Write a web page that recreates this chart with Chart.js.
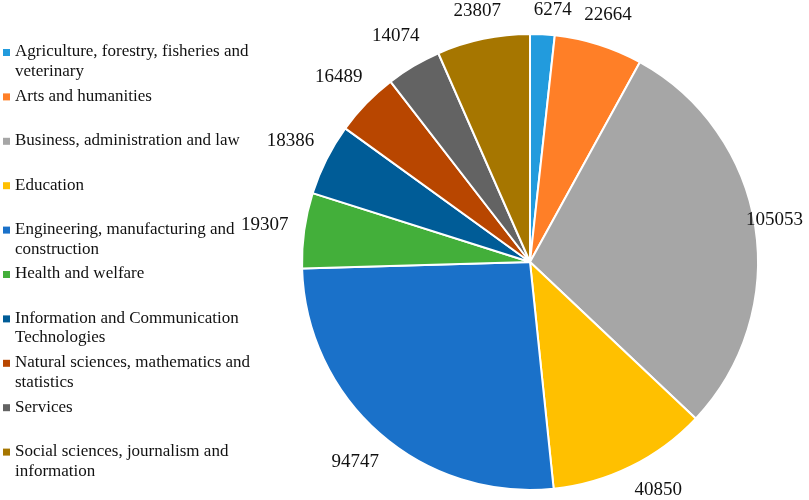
<!DOCTYPE html>
<html lang="en">
<head>
    <meta charset="UTF-8">
    <title>Students by field of education</title>
    <script src="https://cdn.jsdelivr.net/npm/chart.js"></script>
    <style>
        html, body { margin: 0; padding: 0; background: #fff; }
        #wrap { width: 809px; height: 500px; }
    </style>
</head>
<body>
    <div id="wrap">
        <canvas id="pieChart" width="809" height="500"></canvas>
    </div>

    <script>
        // Data
        const categories = [
            'Agriculture, forestry, fisheries and veterinary',
            'Arts and humanities',
            'Business, administration and law',
            'Education',
            'Engineering, manufacturing and construction',
            'Health and welfare',
            'Information and Communication Technologies',
            'Natural sciences, mathematics and statistics',
            'Services',
            'Social sciences, journalism and information'
        ];
        const students = [6274, 22664, 105053, 40850, 94747, 19307, 18386, 16489, 14074, 23807];
        const sliceColors = [
            '#229BDD', '#FF7F27', '#A6A6A6', '#FFC000', '#1A71C9',
            '#43AF3A', '#005C97', '#B84600', '#636363', '#A67600'
        ];

        const serifFont = '"Liberation Serif", serif';

        // value labels just outside each slice, kept inside the canvas
        const valueLabels = {
            id: 'valueLabels',
            afterDatasetsDraw(chart) {
                const ctx = chart.ctx;
                const meta = chart.getDatasetMeta(0);
                ctx.save();
                ctx.font = '19px ' + serifFont;
                ctx.fillStyle = '#111';
                ctx.textAlign = 'center';
                ctx.textBaseline = 'middle';
                meta.data.forEach((arc, i) => {
                    const p = arc.getProps(['x', 'y', 'startAngle', 'endAngle', 'outerRadius'], true);
                    const mid = (p.startAngle + p.endAngle) / 2;
                    const c = Math.cos(mid), s = Math.sin(mid);
                    const text = String(chart.data.datasets[0].data[i]);
                    const w = ctx.measureText(text).width;
                    const d = p.outerRadius + 15 + Math.abs(c) * w / 2 + Math.abs(s) * 9;
                    let px = p.x + c * d;
                    let py = p.y + s * d;
                    const maxY = chart.height - 10, minY = 10;
                    if (py > maxY || py < minY) {
                        py = Math.min(Math.max(py, minY), maxY);
                        const dy = py - p.y;
                        px = p.x + Math.sign(c) * Math.sqrt(Math.max(d * d - dy * dy, 0));
                    }
                    px = Math.min(Math.max(px, w / 2 + 4), chart.width - w / 2 - 6);
                    ctx.fillText(text, px, py);
                });
                ctx.restore();
            }
        };

        // legend on the left, one slot per category, wrapped text
        const sideLegend = {
            id: 'sideLegend',
            afterDraw(chart) {
                const ctx = chart.ctx;
                const colors = chart.data.datasets[0].backgroundColor;
                ctx.save();
                ctx.font = '17px ' + serifFont;
                ctx.textAlign = 'left';
                ctx.textBaseline = 'middle';
                chart.data.labels.forEach((label, i) => {
                    const y0 = 52 + i * 44.4;
                    ctx.fillStyle = colors[i];
                    ctx.fillRect(3, y0 - 3, 7, 7);
                    ctx.fillStyle = '#111';
                    const lines = [];
                    let line = '';
                    label.split(' ').forEach(word => {
                        const test = line ? line + ' ' + word : word;
                        if (ctx.measureText(test).width > 255 && line) {
                            lines.push(line);
                            line = word;
                        } else {
                            line = test;
                        }
                    });
                    lines.push(line);
                    lines.forEach((l, j) => ctx.fillText(l, 15, y0 + j * 19.5));
                });
                ctx.restore();
            }
        };

        new Chart(document.getElementById('pieChart'), {
            type: 'pie',
            data: {
                labels: categories,
                datasets: [{
                    data: students,
                    backgroundColor: sliceColors,
                    borderColor: '#ffffff',
                    borderWidth: 2
                }]
            },
            options: {
                responsive: false,
                animation: false,
                layout: {
                    padding: { top: 33, bottom: 9, left: 301, right: 50 }
                },
                plugins: {
                    legend: { display: false },
                    tooltip: { enabled: false }
                }
            },
            plugins: [valueLabels, sideLegend]
        });
    </script>
</body>
</html>
